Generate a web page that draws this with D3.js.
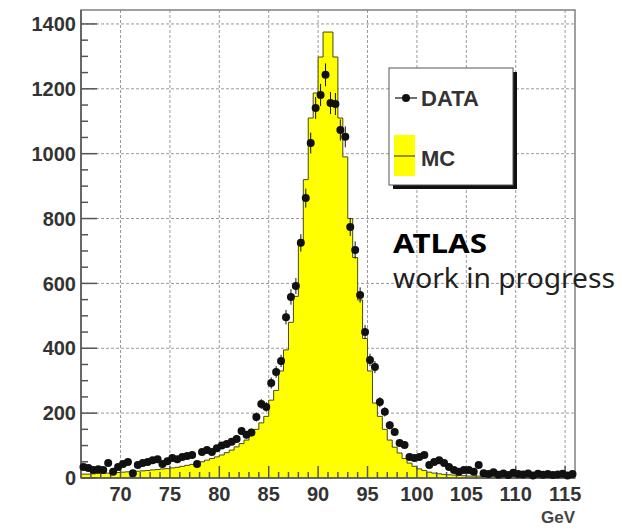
<!DOCTYPE html>
<html>
<head>
<meta charset="utf-8">
<script src="https://cdn.jsdelivr.net/npm/d3@7"></script>
<style>
  body { margin: 0; background: #fff; }
  svg { display: block; }
</style>
</head>
<body>
<div class="chart"></div>
<script>
// bin lower edges, 0.5 GeV wide, 66 -> 116 GeV
const binEdges = d3.range(66, 116, 0.5)
const binWidth = 0.5

// data points (counts per bin)
const dataCounts = [
  34, 31, 25, 27, 25, 46, 19, 34, 43, 49, 15, 40, 46, 49, 55, 58, 43, 52, 62, 58,
  65, 68, 71, 43, 80, 86, 80, 92, 100, 105, 112, 120, 145, 133, 140, 188, 228, 219, 293, 327,
  361, 496, 558, 592, 725, 863, 1033, 1141, 1181, 1243, 1156, 1153, 1073, 1052, 774, 703, 564, 450, 364, 342,
  234, 204, 163, 142, 108, 102, 65, 62, 65, 71, 40, 49, 55, 46, 34, 25, 19, 25, 25, 19,
  40, 15, 12, 18, 10, 14, 9, 16, 12, 11, 14, 8, 13, 10, 12, 9, 11, 13, 8, 12
]

// monte carlo histogram
const mcCounts = [
  12, 12, 13, 14, 14, 15, 16, 17, 18, 19, 20, 21, 22, 23, 25, 26, 28, 29, 31, 33,
  36, 39, 42, 46, 50, 55, 60, 65, 71, 78, 86, 96, 106, 117, 132, 150, 170, 190, 240, 270,
  330, 395, 480, 560, 725, 920, 1110, 1187, 1298, 1375, 1375, 1298, 1110, 990, 800, 680, 549, 430, 330, 231,
  190, 150, 117, 95, 77, 60, 46, 36, 28, 23, 18, 15, 13, 11, 10, 9, 8, 7, 6, 6,
  6, 5, 5, 5, 5, 4, 4, 4, 4, 4, 3, 3, 3, 3, 3, 3, 3, 3, 3, 3
]

const xTicks = [70, 75, 80, 85, 90, 95, 100, 105, 110, 115]
const yTicks = [0, 200, 400, 600, 800, 1000, 1200, 1400]
const legendLabels = ['DATA', 'MC']

const W = 622, H = 531
const padL = 81, padR = 575, padT = 10, padB = 478

let svg = d3.select('.chart')
.append('svg')
.attr('width', W)
.attr('height', H)

svg.append('rect').attr('width', W).attr('height', H).attr('fill', '#fff')

let x = d3.scaleLinear().domain([66, 116]).range([padL, padR])
let y = d3.scaleLinear().domain([0, 1443]).range([padB, padT])

// grid
let grid = svg.append('g')
.attr('stroke', '#9a9a9a')
.attr('stroke-width', 1)
.attr('stroke-dasharray', '3,2')

grid.selectAll('.gx')
.data(xTicks)
.enter()
.append('line')
.attr('x1', d => x(d)).attr('x2', d => x(d))
.attr('y1', padT).attr('y2', padB)

grid.selectAll('.gy')
.data(yTicks.filter(d => d > 0))
.enter()
.append('line')
.attr('x1', padL).attr('x2', padR)
.attr('y1', d => y(d)).attr('y2', d => y(d))

// MC histogram as step area
const mcPoints = binEdges.map((e, i) => [e, mcCounts[i]])
mcPoints.push([binEdges[binEdges.length - 1] + binWidth, mcCounts[mcCounts.length - 1]])

let area = d3.area()
.x(d => x(d[0]))
.y0(y(0))
.y1(d => y(d[1]))
.curve(d3.curveStepAfter)

let line = d3.line()
.x(d => x(d[0]))
.y(d => y(d[1]))
.curve(d3.curveStepAfter)

svg.append('path')
.attr('d', area(mcPoints))
.attr('fill', '#ffff00')

svg.append('path')
.attr('d', line(mcPoints))
.attr('fill', 'none')
.attr('stroke', '#4a4a10')
.attr('stroke-width', 1)

// frame
svg.append('rect')
.attr('x', padL).attr('y', padT)
.attr('width', padR - padL).attr('height', padB - padT)
.attr('fill', 'none')
.attr('stroke', '#808080')
.attr('stroke-width', 1.5)

// axis ticks, drawn inward like ROOT
let ticks = svg.append('g').attr('stroke', '#555').attr('stroke-width', 1.5)

ticks.selectAll('.ty')
.data(d3.range(0, 1401, 50))
.enter()
.append('line')
.attr('x1', padL)
.attr('x2', d => padL + (d % 200 === 0 ? 16 : 7))
.attr('y1', d => y(d)).attr('y2', d => y(d))

ticks.selectAll('.tx')
.data(d3.range(67, 116, 1))
.enter()
.append('line')
.attr('x1', d => x(d)).attr('x2', d => x(d))
.attr('y1', padB)
.attr('y2', d => padB - (d % 5 === 0 ? 12 : 6))

ticks.append('line')
.attr('x1', padL).attr('x2', padL).attr('y1', padT).attr('y2', padB)
ticks.append('line')
.attr('x1', padL).attr('x2', padR).attr('y1', padB).attr('y2', padB)

// tick labels
svg.append('g').selectAll('text')
.data(yTicks)
.enter()
.append('text')
.attr('x', padL - 5)
.attr('y', d => y(d))
.attr('dy', '0.36em')
.attr('text-anchor', 'end')
.attr('font-family', 'Liberation Sans, Arial, sans-serif')
.attr('font-weight', 'bold')
.attr('font-size', 20)
.attr('fill', '#333')
.text(d => d)

svg.append('g').selectAll('text')
.data(xTicks)
.enter()
.append('text')
.attr('x', d => x(d))
.attr('y', 501)
.attr('text-anchor', 'middle')
.attr('font-family', 'Liberation Sans, Arial, sans-serif')
.attr('font-weight', 'bold')
.attr('font-size', 20)
.attr('fill', '#333')
.text(d => d)

svg.append('text')
.attr('x', padR)
.attr('y', 523)
.attr('text-anchor', 'end')
.attr('font-family', 'Liberation Sans, Arial, sans-serif')
.attr('font-weight', 'bold')
.attr('font-size', 17)
.attr('fill', '#444')
.text('GeV')

// data points with sqrt(N) error bars
const dataPoints = binEdges.map((e, i) => ({ m: e + binWidth / 2, n: dataCounts[i] }))

svg.append('g').selectAll('line')
.data(dataPoints)
.enter()
.append('line')
.attr('x1', d => x(d.m)).attr('x2', d => x(d.m))
.attr('y1', d => y(d.n + Math.sqrt(d.n)))
.attr('y2', d => y(Math.max(0, d.n - Math.sqrt(d.n))))
.attr('stroke', '#111')
.attr('stroke-width', 1)

svg.append('g').selectAll('circle')
.data(dataPoints)
.enter()
.append('circle')
.attr('cx', d => x(d.m))
.attr('cy', d => y(d.n))
.attr('r', 4)
.attr('fill', '#111')

// legend
let legend = svg.append('g')
legend.append('rect')
.attr('x', 393).attr('y', 72).attr('width', 124).attr('height', 117)
.attr('fill', '#111')
legend.append('rect')
.attr('x', 389).attr('y', 68).attr('width', 124).attr('height', 117)
.attr('fill', '#fff').attr('stroke', '#555').attr('stroke-width', 1)

legend.append('line')
.attr('x1', 395).attr('x2', 417).attr('y1', 98).attr('y2', 98)
.attr('stroke', '#111').attr('stroke-width', 1.2)
legend.append('circle')
.attr('cx', 406).attr('cy', 98).attr('r', 4).attr('fill', '#111')

legend.append('rect')
.attr('x', 394).attr('y', 135).attr('width', 21).attr('height', 41)
.attr('fill', '#ffff00')
legend.append('line')
.attr('x1', 394).attr('x2', 415).attr('y1', 156).attr('y2', 156)
.attr('stroke', '#4a4a10').attr('stroke-width', 1.2)

legend.selectAll('.lt')
.data(legendLabels)
.enter()
.append('text')
.attr('x', 421)
.attr('y', (d, i) => i === 0 ? 98 : 158)
.attr('dy', '0.36em')
.attr('font-family', 'Liberation Sans, Arial, sans-serif')
.attr('font-weight', 'bold')
.attr('font-size', 22)
.attr('fill', '#333')
.text(d => d)

// annotation
svg.append('text')
.attr('x', 393)
.attr('y', 253)
.attr('font-family', 'Noto Sans, sans-serif')
.attr('font-weight', 'bold')
.attr('font-size', 26)
.attr('textLength', 94)
.attr('lengthAdjust', 'spacingAndGlyphs')
.attr('fill', '#000')
.text('ATLAS')

svg.append('text')
.attr('x', 393)
.attr('y', 288)
.attr('font-family', 'Noto Sans, sans-serif')
.attr('font-size', 27)
.attr('textLength', 222)
.attr('lengthAdjust', 'spacingAndGlyphs')
.attr('fill', '#222')
.text('work in progress')
</script>
</body>
</html>
